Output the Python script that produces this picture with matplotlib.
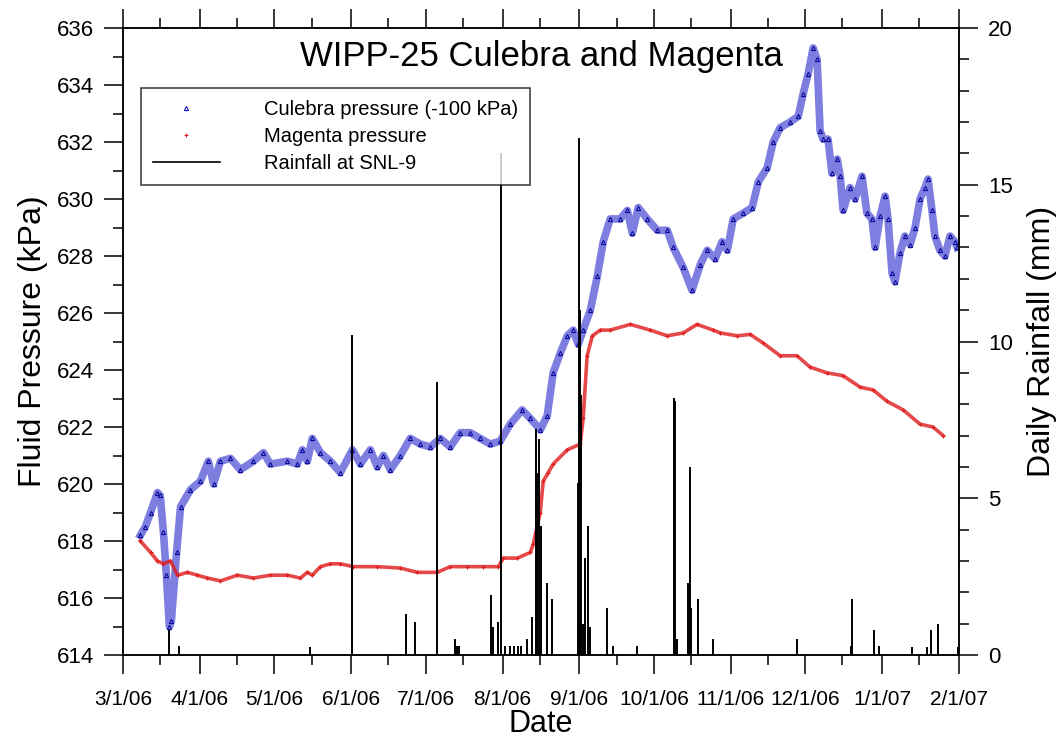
import matplotlib
matplotlib.use("Agg")
import matplotlib.pyplot as plt
import matplotlib.dates as mdates
from matplotlib.lines import Line2D
from matplotlib.ticker import MultipleLocator, FuncFormatter
import pandas as pd

plt.rcParams["font.family"] = ["Liberation Sans", "DejaVu Sans"]

# time axis: days since 1 Mar 2006
START = pd.Timestamp("2006-03-01")

# Culebra fluid pressure (kPa, already reduced by 100 kPa)
culebra_day = [7.0, 9.0, 11.1, 13.9, 15.0, 16.3, 17.5, 18.7, 19.5, 21.6, 23.2, 27.2,
               31.2, 34.4, 36.5, 39.3, 43.3, 47.3, 52.6, 56.6, 59.4, 66.3, 70.3, 72.3,
               74.3, 76.3, 79.6, 83.6, 87.6, 92.5, 95.7, 99.7, 102.5, 105.0, 107.8, 111.8,
               115.8, 119.9, 123.9, 127.9, 131.9, 135.9, 140.0, 144.0, 148.0, 152.0, 156.1,
               160.9, 164.2, 168.2, 171.0, 173.4, 176.3, 179.1, 181.5, 183.5, 185.5, 188.4,
               191.2, 193.6, 196.4, 200.4, 203.3, 205.3, 207.7, 211.3, 215.4, 219.4, 221.8,
               225.8, 229.4, 232.7, 235.5, 238.7, 241.5, 243.6, 246.0, 250.0, 253.6, 256.1,
               259.7, 262.1, 264.9, 268.9, 272.2, 274.2, 276.2, 278.2, 279.8, 281.0, 282.2,
               284.2, 285.8, 287.9, 289.1, 290.3, 293.1, 295.1, 297.9, 299.9, 301.9, 303.2,
               305.2, 307.2, 308.4, 310.0, 311.2, 313.2, 315.2, 317.3, 319.3, 321.3, 323.3,
               324.5, 326.1, 327.3, 329.3, 331.3, 333.4, 335.4, 336.2]
culebra_kpa = [618.2, 618.5, 619.0, 619.7, 619.6, 618.3, 616.8, 615.0, 615.2, 617.6, 619.2, 619.8,
               620.1, 620.8, 620.0, 620.8, 620.9, 620.5, 620.8, 621.1, 620.7, 620.8, 620.7, 621.2,
               620.8, 621.6, 621.1, 620.8, 620.4, 621.2, 620.7, 621.2, 620.6, 621.0, 620.5, 621.0,
               621.6, 621.4, 621.3, 621.6, 621.3, 621.8, 621.8, 621.6, 621.4, 621.5, 622.1,
               622.6, 622.3, 621.9, 622.4, 623.9, 624.6, 625.2, 625.4, 624.9, 625.4, 626.1,
               627.3, 628.5, 629.3, 629.3, 629.6, 628.8, 629.7, 629.3, 628.9, 628.9, 628.3,
               627.6, 626.8, 627.7, 628.2, 627.9, 628.5, 628.2, 629.3, 629.5, 629.7, 630.6,
               631.1, 632.0, 632.5, 632.7, 632.9, 633.7, 634.4, 635.3, 634.9, 632.4, 632.1,
               632.1, 630.9, 631.4, 630.8, 629.6, 630.4, 630.0, 630.8, 629.5, 629.3, 628.3,
               629.4, 630.1, 629.3, 627.4, 627.1, 628.1, 628.7, 628.4, 629.0, 630.0, 630.4,
               630.7, 629.6, 628.7, 628.2, 628.0, 628.7, 628.5, 628.3]

# Magenta fluid pressure (kPa)
magenta_day = [7.0, 11.1, 13.9, 16.3, 19.1, 22.0, 26.0, 30.0, 34.0, 39.3, 46.1, 52.6,
               59.4, 66.3, 71.5, 74.3, 76.3, 79.6, 83.6, 87.6, 92.8, 102.5, 111.8, 118.7,
               126.7, 131.9, 138.8, 145.2, 151.3, 153.3, 159.0, 164.2, 165.4, 168.2, 169.4,
               171.4, 173.4, 179.1, 184.3, 185.5, 187.1, 189.2, 192.4, 196.4, 204.5, 212.5,
               219.4, 225.8, 231.4, 237.9, 240.8, 247.6, 252.8, 258.0, 264.9, 271.7, 277.0,
               283.8, 290.3, 297.1, 302.4, 308.0, 314.5, 321.3, 326.5, 330.6]
magenta_kpa = [618.0, 617.6, 617.3, 617.2, 617.3, 616.8, 616.9, 616.8, 616.7, 616.6, 616.8, 616.7,
               616.8, 616.8, 616.7, 616.9, 616.8, 617.1, 617.2, 617.2, 617.1, 617.1, 617.05, 616.9,
               616.9, 617.1, 617.1, 617.1, 617.1, 617.4, 617.4, 617.6, 617.9, 619.0, 620.1,
               620.4, 620.7, 621.2, 621.4, 622.3, 624.5, 625.2, 625.4, 625.4, 625.6, 625.4,
               625.2, 625.3, 625.6, 625.4, 625.3, 625.2, 625.25, 624.95, 624.5, 624.5, 624.1,
               623.9, 623.8, 623.4, 623.3, 622.9, 622.6, 622.1, 622.0, 621.7]

# daily rainfall at SNL-9 (mm)
rain_day = [18.7, 22.4, 75.5, 92.5, 114.2, 117.7, 126.7, 134.0, 134.8, 135.6, 148.5, 149.3,
            151.3, 152.5, 154.1, 156.1, 157.7, 159.4, 160.6, 163.0, 165.0, 166.3, 166.9,
            167.7, 168.4, 170.8, 172.8, 183.5, 183.9, 184.3, 184.8, 185.5, 186.3, 187.5,
            188.4, 195.1, 197.6, 207.3, 222.0, 222.6, 223.3, 227.8, 228.5, 228.9, 231.8,
            237.9, 271.7, 293.5, 293.9, 302.7, 304.7, 318.1, 324.1, 325.7, 328.6, 336.6]
rain_mm = [0.8, 0.3, 0.25, 10.2, 1.3, 1.05, 8.7, 0.5, 0.3, 0.3, 1.9, 0.9,
           1.05, 16.0, 0.3, 0.3, 0.3, 0.3, 0.3, 0.5, 1.2, 7.2, 5.8,
           6.9, 4.1, 2.3, 1.8, 5.5, 16.5, 11.0, 8.3, 1.0, 3.1, 4.1,
           0.9, 1.5, 0.3, 0.3, 8.2, 8.1, 0.5, 2.3, 6.0, 1.5, 1.8,
           0.5, 0.5, 0.3, 1.8, 0.8, 0.3, 0.25, 0.25, 0.8, 1.0, 0.25]


def to_dates(days):
    return START + pd.to_timedelta(days, unit="D")


blue = "#1414c8"
red = "#e01c1c"

fig = plt.figure(figsize=(10.62, 7.40), dpi=100)
ax = fig.add_axes([123 / 1062, 1 - 655 / 740, 836 / 1062, 627 / 740])
ax2 = ax.twinx()

cd = to_dates(culebra_day)
md = to_dates(magenta_day)
# pressure bands, with the logged points on top
ax.plot(cd, culebra_kpa, color=blue, lw=5.5, alpha=0.55, solid_joinstyle="round")
ax.plot(cd, culebra_kpa, ls="none", marker="^", ms=3, mfc="none", mec="#0a0a9a", mew=0.8)
ax.plot(md, magenta_kpa, color=red, lw=2.6, alpha=0.8)
ax.plot(md, magenta_kpa, ls="none", marker="+", ms=3.5, mec=red, mew=0.8)

ax2.vlines(to_dates(rain_day), 0, rain_mm, color="black", lw=1.4)

# axes ranges and ticks
ax.set_xlim(pd.Timestamp("2006-03-01"), pd.Timestamp("2007-02-01"))
ax.set_ylim(614, 636)
ax2.set_ylim(0, 20)

ax.xaxis.set_major_locator(mdates.MonthLocator())
ax.xaxis.set_minor_locator(mdates.DayLocator(bymonthday=16))
ax.xaxis.set_major_formatter(FuncFormatter(
    lambda v, pos: (lambda d: f"{d.month}/{d.day}/{d.strftime('%y')}")(mdates.num2date(v))))
ax.yaxis.set_major_locator(MultipleLocator(2))
ax.yaxis.set_minor_locator(MultipleLocator(1))
ax2.yaxis.set_major_locator(MultipleLocator(5))
ax2.yaxis.set_minor_locator(MultipleLocator(1))

ax.tick_params(axis="x", which="both", top=True, direction="out", width=1.1, labelsize=15, pad=11)
ax.tick_params(axis="y", which="both", direction="out", width=1.1, labelsize=16, pad=7)
ax2.tick_params(axis="y", which="both", direction="out", width=1.1, labelsize=16, pad=7)
for a in (ax, ax2):
    a.tick_params(which="major", length=14)
    a.tick_params(which="minor", length=7)
    for s in a.spines.values():
        s.set_linewidth(1.1)

ax.set_xlabel("Date", fontsize=22, labelpad=0)
ax.set_ylabel("Fluid Pressure (kPa)", fontsize=23, labelpad=6)
ax2.set_ylabel("Daily Rainfall (mm)", fontsize=23, labelpad=10)

ax2.text(0.5, 0.954, "WIPP-25 Culebra and Magenta", transform=ax2.transAxes,
         ha="center", va="center", fontsize=25)

handles = [
    Line2D([], [], ls="none", marker="^", ms=3, mfc="none", mec=blue, mew=0.8),
    Line2D([], [], ls="none", marker="+", ms=3.5, mec=red, mew=0.8),
    Line2D([], [], color="black", lw=1.2),
]
labels = ["Culebra pressure (-100 kPa)", "Magenta pressure", "Rainfall at SNL-9"]
leg = ax2.legend(handles, labels, loc="upper left", bbox_to_anchor=(0.0215, 0.904),
                 borderaxespad=0, fontsize=14.5, frameon=True, fancybox=False,
                 handlelength=3.3, handletextpad=2.2, labelspacing=0.4, borderpad=0.6)
leg.get_frame().set_edgecolor("black")
leg.get_frame().set_linewidth(1.1)

fig.savefig("out.png", dpi=100)
